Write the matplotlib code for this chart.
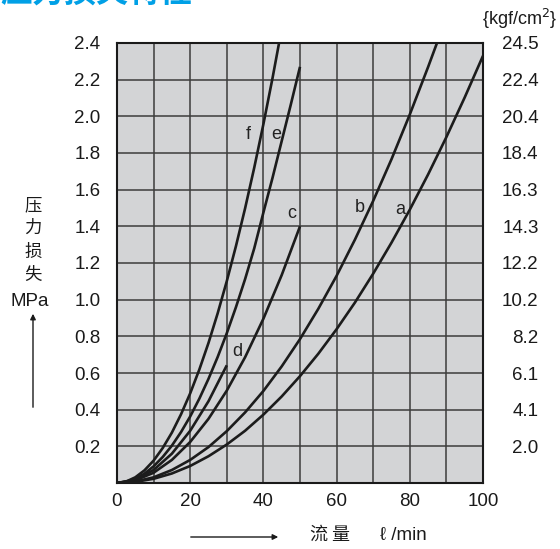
import numpy as np
import matplotlib
matplotlib.use("Agg")
import matplotlib.pyplot as plt

plt.rcParams['font.family'] = ['Liberation Sans', 'Noto Sans CJK SC', 'DejaVu Sans']

# flow (l/min) vs pressure loss (MPa)
flow_a = [0, 5, 10, 15, 20, 25, 30, 35, 40, 45, 50, 55, 60, 65, 70, 75, 80, 85, 90, 95, 100]
loss_a = [0, 0.006, 0.023, 0.052, 0.093, 0.146, 0.210, 0.285, 0.373, 0.472, 0.583,
          0.705, 0.839, 0.984, 1.142, 1.311, 1.491, 1.683, 1.887, 2.103, 2.330]

flow_b = [0, 5, 10, 15, 20, 25, 30, 35, 40, 45, 50, 55, 60, 65, 70, 75, 80, 85, 87.5]
loss_b = [0, 0.008, 0.031, 0.071, 0.126, 0.196, 0.283, 0.385, 0.502, 0.636, 0.785,
          0.950, 1.130, 1.327, 1.539, 1.766, 2.010, 2.269, 2.404]

flow_c = [0, 5, 10, 15, 20, 25, 30, 35, 40, 45, 50]
loss_c = [0, 0.014, 0.056, 0.126, 0.224, 0.350, 0.504, 0.686, 0.896, 1.134, 1.400]

flow_d = [0, 5, 10, 15, 20, 25, 30]
loss_d = [0, 0.018, 0.071, 0.160, 0.285, 0.446, 0.642]

flow_e = [0, 2.5, 5, 7.5, 10, 12.5, 15, 17.5, 20, 22.5, 25, 27.5, 30, 32.5, 35, 37.5,
          40, 42.5, 45, 47.5, 50]
loss_e = [0, 0.006, 0.023, 0.051, 0.091, 0.142, 0.204, 0.278, 0.363, 0.460, 0.568,
          0.687, 0.817, 0.959, 1.112, 1.280, 1.475, 1.665, 1.865, 2.065, 2.270]

flow_f = [0, 2.5, 5, 7.5, 10, 12.5, 15, 17.5, 20, 22.5, 25, 27.5, 30, 32.5, 35, 37.5,
          40, 42.5, 45]
loss_f = [0, 0.008, 0.031, 0.069, 0.122, 0.191, 0.275, 0.375, 0.489, 0.619, 0.764,
          0.925, 1.101, 1.292, 1.498, 1.720, 1.957, 2.209, 2.477]

curve_names = ["a", "b", "c", "d", "e", "f"]
label_pos = [(77.3, 1.49), (66.4, 1.50), (47.8, 1.47), (32.8, 0.72), (43.4, 1.90), (35.8, 1.90)]

x_ticks = [0, 20, 40, 60, 80, 100]
y_ticks = [0, 0.2, 0.4, 0.6, 0.8, 1.0, 1.2, 1.4, 1.6, 1.8, 2.0, 2.2, 2.4]
y_labels = ["", "0.2", "0.4", "0.6", "0.8", "1.0", "1.2", "1.4", "1.6", "1.8", "2.0", "2.2", "2.4"]
kgf_labels = ["", "2.0", "4.1", "6.1", "8.2", "10.2", "12.2", "14.3", "16.3", "18.4", "20.4", "22.4", "24.5"]

fig = plt.figure(figsize=(5.6, 5.49), dpi=100)
ax = fig.add_axes([0.2089, 0.1202, 0.6536, 0.8015])
ax.set_facecolor("#d3d4d6")

curves = [(flow_a, loss_a), (flow_b, loss_b), (flow_c, loss_c),
          (flow_d, loss_d), (flow_e, loss_e), (flow_f, loss_f)]
for (fx, fy) in curves:
    ax.plot(fx, fy, color="#1c1c1c", lw=1.9, solid_capstyle="butt",
            solid_joinstyle="round", zorder=3)

for name, (lx, ly) in zip(curve_names, label_pos):
    ax.text(lx, ly, name, fontsize=13, color="#222222", ha="center", va="center",
            zorder=4)

ax.set_xlim(0, 100)
ax.set_ylim(0, 2.4)
ax.set_xticks(x_ticks)
ax.set_xticks(range(10, 100, 20), minor=True)
ax.set_yticks(y_ticks)
ax.set_yticklabels(y_labels)
ax.grid(True, which="both", color="#3c3c3c", lw=1.1, zorder=1)
ax.set_axisbelow(True)
ax.tick_params(which="both", length=0, labelsize=13.5, colors="#1a1a1a")
ax.tick_params(axis="y", pad=12)
ax.tick_params(axis="x", pad=7)
for s in ax.spines.values():
    s.set_linewidth(1.5)
    s.set_color("#1a1a1a")

# right hand kgf/cm2 scale
ax2 = ax.twinx()
ax2.set_ylim(0, 2.4)
ax2.set_yticks(y_ticks)
ax2.set_yticklabels(kgf_labels)
ax2.tick_params(length=0, labelsize=13.5, colors="#1a1a1a", pad=40)
for lbl in ax2.get_yticklabels():
    lbl.set_horizontalalignment("right")
for s in ax2.spines.values():
    s.set_visible(False)

fig.text(0.995, 1 - 19 / 549, "{kgf/cm$^2$}", fontsize=13, ha="right", va="center",
         color="#1a1a1a")

# title, partly cut at the top edge as in the original scan
fig.text(0.0, 1 - 9 / 549, "压力损失特性", fontsize=23, fontweight="bold",
         color="#00a0e6", ha="left", va="bottom",
         family=["Noto Sans CJK SC", "DejaVu Sans"])

# y axis caption, stacked
for ch, py in zip(["压", "力", "损", "失"], [205, 228, 252, 275]):
    fig.text(33 / 560, 1 - py / 549, ch, fontsize=12.5, ha="center", va="center",
             family=["Noto Sans CJK SC", "DejaVu Sans"], color="#1a1a1a")
fig.text(30 / 560, 1 - 301 / 549, "MPa", fontsize=13.5, ha="center", va="center",
         color="#1a1a1a")
fig.add_artist(matplotlib.patches.FancyArrowPatch(
    (33 / 560, 1 - 410 / 549), (33 / 560, 1 - 311 / 549), transform=fig.transFigure,
    arrowstyle="-|>", mutation_scale=8, lw=1.0, color="#1a1a1a"))

# x axis caption
fig.add_artist(matplotlib.patches.FancyArrowPatch(
    (188 / 560, 1 - 537 / 549), (281 / 560, 1 - 537 / 549), transform=fig.transFigure,
    arrowstyle="-|>", mutation_scale=8, lw=1.0, color="#1a1a1a"))
fig.text(330 / 560, 1 - 535 / 549, "流 量", fontsize=13, ha="center", va="center",
         family=["Noto Sans CJK SC", "DejaVu Sans"], color="#1a1a1a")
fig.text(380 / 560, 1 - 535 / 549, "ℓ /min", fontsize=13.5, ha="left", va="center",
         color="#1a1a1a")

fig.savefig("out.png", dpi=100)
